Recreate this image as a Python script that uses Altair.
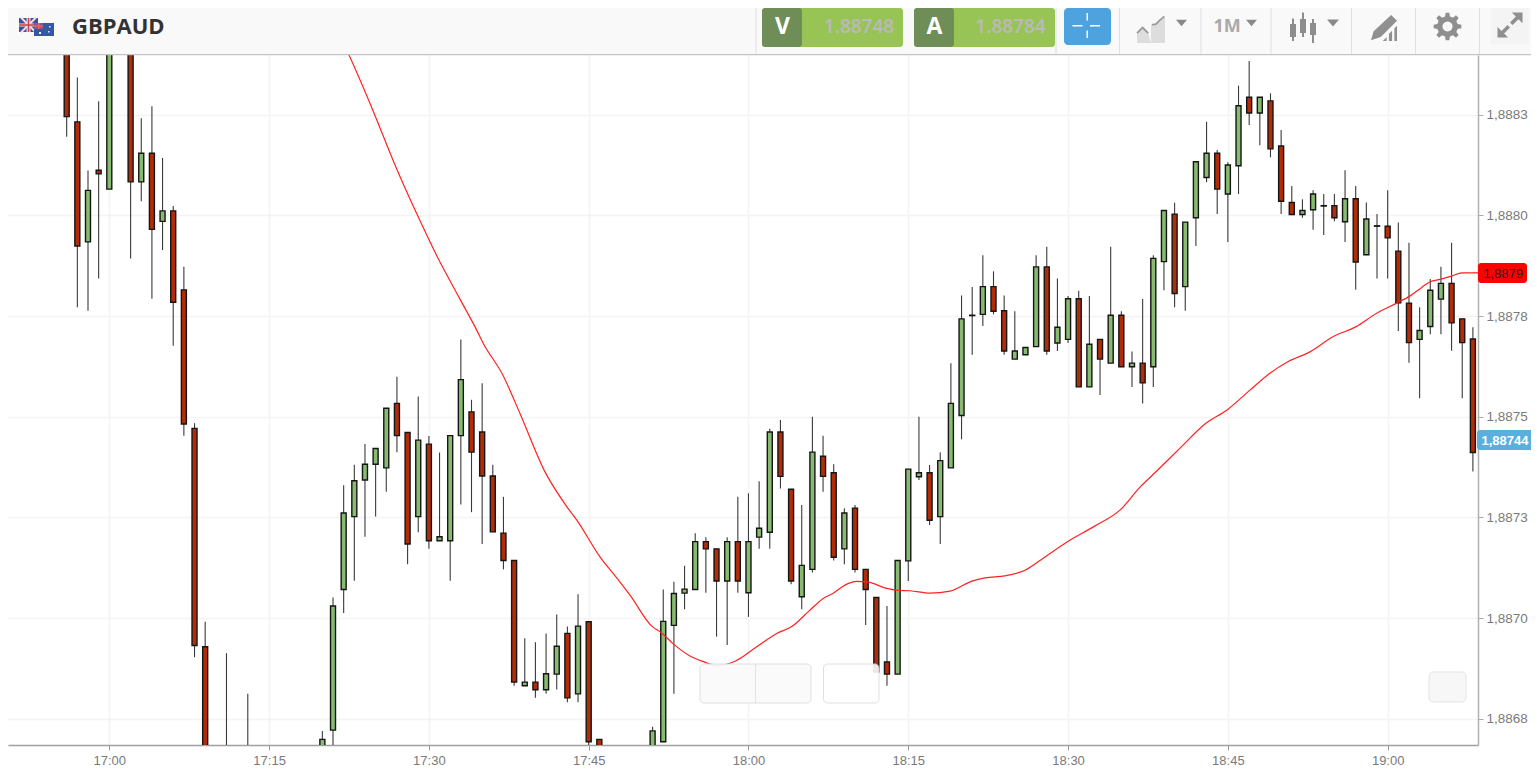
import math

import altair as alt
import pandas as pd

# Prices are written in millionths above 1 (888232 means 1.888232).
minutes = [-4, -3, -2, -1, 0, 2, 3, 4, 5, 6,
           7, 8, 9, 11, 13, 20, 21, 22, 23, 24,
           25, 26, 27, 28, 29, 30, 31, 32, 33, 34,
           35, 36, 37, 38, 39, 40, 41, 42, 43, 44,
           45, 46, 51, 52, 53, 54, 55, 56, 57, 58,
           59, 60, 61, 62, 63, 64, 65, 66, 67, 68,
           69, 70, 71, 72, 73, 74, 75, 76, 77, 78,
           79, 80, 81, 82, 83, 84, 85, 86, 87, 88,
           89, 90, 91, 92, 93, 94, 95, 96, 97, 98,
           99, 100, 101, 102, 103, 104, 105, 106, 107, 108,
           109, 110, 111, 112, 113, 114, 115, 116, 117, 118,
           119, 120, 121, 122, 123, 124, 125, 126, 127, 128]
opens = [888460, 888232, 887934, 888112, 888065, 888460, 888083, 888154, 887985, 888011,
         887815, 887471, 886929, 886573, 886598, 886648, 886722, 887071, 887252, 887343,
         887382, 887373, 887533, 887461, 887252, 887432, 887192, 887192, 887453, 887512,
         887462, 887353, 887211, 887143, 886832, 886841, 886822, 886861, 886962, 886812,
         886991, 886699, 886648, 886693, 886982, 887062, 887071, 887190, 887172, 887092,
         887190, 887063, 887201, 887213, 887462, 887320, 887053, 887121, 887402, 887361,
         887172, 887273, 887121, 887051, 886891, 886861, 887142, 887351, 887361, 887252,
         887373, 887503, 887751, 887754, 887823, 887763, 887643, 887654, 887674, 887872,
         887683, 887692, 887793, 887574, 887692, 887633, 887752, 887624, 887633, 887624,
         887885, 888003, 887823, 887994, 888094, 888154, 888053, 888123, 888293, 888254,
         888284, 888172, 888032, 888002, 888014, 888023, 888024, 887984, 888041, 887902,
         887973, 887973, 887911, 887782, 887692, 887724, 887792, 887831, 887743, 887693]
highs = [888485, 888342, 888111, 888283, 888485, 888485, 888241, 888271, 888142, 888023,
         887872, 887484, 886991, 886913, 886812, 886720, 887051, 887330, 887381, 887432,
         887421, 887521, 887599, 887461, 887550, 887452, 887411, 887453, 887692, 887542,
         887583, 887381, 887301, 887143, 886950, 886940, 886962, 887009, 886979, 887059,
         886991, 886699, 886730, 887071, 887090, 887130, 887211, 887201, 887172, 887201,
         887301, 887310, 887340, 887470, 887492, 887320, 887281, 887500, 887453, 887382,
         887273, 887281, 887121, 887051, 887030, 887143, 887370, 887500, 887380, 887412,
         887633, 887801, 887822, 887901, 887861, 887801, 887762, 887672, 887901, 887922,
         887843, 887800, 887813, 887800, 887692, 887922, 887762, 887662, 887792, 887901,
         888012, 888031, 887983, 888133, 888232, 888162, 888132, 888322, 888383, 888293,
         888303, 888212, 888073, 888040, 888062, 888053, 888053, 888112, 888073, 888032,
         888003, 888062, 887982, 887932, 887772, 887842, 887872, 887932, 887743, 887722]
lows = [888195, 887772, 887763, 887843, 888065, 887893, 888035, 887793, 887914, 887676,
        887453, 886903, 886500, 886500, 886548, 886623, 886648, 887013, 887093, 887202,
        887252, 887314, 887412, 887134, 887213, 887172, 887192, 887093, 887282, 887263,
        887184, 887214, 887121, 886832, 886832, 886802, 886812, 886823, 886791, 886791,
        886648, 886648, 886648, 886693, 886812, 887022, 887071, 887063, 886954, 886933,
        887063, 887003, 887172, 887172, 887322, 887084, 887022, 887113, 887314, 887143,
        887134, 887113, 886983, 886866, 886832, 886861, 887092, 887343, 887231, 887184,
        887373, 887444, 887654, 887725, 887754, 887654, 887643, 887654, 887674, 887654,
        887663, 887683, 887574, 887574, 887554, 887633, 887624, 887574, 887533, 887574,
        887814, 887772, 887763, 887924, 888082, 888003, 887934, 888053, 888224, 888174,
        888144, 888003, 888002, 887994, 887964, 887951, 887985, 887934, 887815, 887902,
        887843, 887843, 887713, 887634, 887546, 887705, 887705, 887664, 887546, 887364]
closes = [888245, 887924, 888062, 888103, 888460, 888083, 888154, 887965, 888011, 887784,
          887482, 886932, 886548, 886548, 886573, 886699, 887030, 887261, 887341, 887382,
          887421, 887521, 887453, 887184, 887442, 887192, 887202, 887453, 887592, 887412,
          887353, 887214, 887143, 886841, 886841, 886822, 886862, 886930, 886802, 886980,
          886693, 886648, 886720, 886992, 887061, 887072, 887190, 887172, 887092, 887190,
          887092, 887190, 887223, 887462, 887352, 887092, 887131, 887412, 887352, 887151,
          887261, 887121, 887071, 886866, 886861, 887143, 887370, 887361, 887243, 887391,
          887533, 887743, 887752, 887823, 887762, 887663, 887663, 887672, 887872, 887663,
          887722, 887793, 887574, 887680, 887643, 887752, 887624, 887633, 887584, 887893,
          888012, 887806, 887983, 888133, 888154, 888065, 888125, 888272, 888254, 888293,
          888165, 888035, 888002, 888012, 888053, 888024, 887994, 888041, 887884, 887991,
          887974, 887944, 887783, 887684, 887714, 887814, 887831, 887733, 887684, 887411]

ma_minutes = [21.84, 22.5, 24.66, 26.82, 28.79, 30.85, 32.92, 34.49, 35.11, 36.93,
              38.55, 40.90, 42.94, 43.87, 46.06, 47.63, 48.88, 50.92, 51.85, 52.94,
              54.51, 55.76, 57.02, 58.73, 60.77, 62.65, 64.06, 65.62, 67.02, 67.96,
              69.06, 70.16, 71.10, 72.98, 74.06, 75.16, 77.04, 78.92, 80.98, 82.20,
              84.08, 85.96, 87.83, 89.90, 92.53, 94.87, 96.75, 98.47, 100.51, 102.85,
              104.98, 107.07, 108.95, 110.67, 112.71, 114.90, 117.00, 118.97, 120.85, 122.10,
              123.20, 123.98, 124.92, 126.01, 126.95, 128.48]
ma_values = [888435, 888398, 888266, 888125, 888008, 887894, 887792, 887715, 887682, 887604,
             887508, 887363, 887277, 887244, 887152, 887100, 887057, 886980, 886963, 886936,
             886906, 886892, 886882, 886893, 886929, 886962, 886979, 887016, 887049, 887062,
             887082, 887091, 887090, 887074, 887069, 887068, 887062, 887067, 887092, 887100,
             887105, 887119, 887152, 887189, 887229, 887268, 887325, 887369, 887422, 887482,
             887518, 887566, 887608, 887637, 887661, 887699, 887723, 887757, 887782, 887800,
             887821, 887835, 887841, 887849, 887857, 887857]

x_ticks = [0, 15, 30, 45, 60, 75, 90, 105, 120]
y_ticks = [1.88675, 1.88700, 1.88725, 1.88750, 1.88775, 1.88800, 1.88825]
x_domain = [-9.509, 128.48]
y_domain = [1.886685, 1.888398]


def price(v):
    return 1 + v / 1e6


candles = pd.DataFrame({
    "minute": minutes,
    "open": [price(v) for v in opens],
    "high": [price(v) for v in highs],
    "low": [price(v) for v in lows],
    "close": [price(v) for v in closes],
})
candles["dir"] = ["up" if c >= o else "down" for o, c in zip(opens, closes)]
ma = pd.DataFrame({"minute": ma_minutes, "price": [price(v) for v in ma_values]})

x_axis = alt.Axis(
    values=x_ticks, title=None, orient="bottom", grid=True,
    gridColor="#f4f4f4", gridWidth=1.5, tickColor="#999999", tickSize=5,
    domainColor="#a0a0a0", domainWidth=1.5, labelColor="#7a7a7a", labelFontSize=13,
    labelFont="Liberation Sans", labelPadding=4, labelBaseline="top",
    labelExpr="format(17 + floor(datum.value / 60), '02d') + ':' + format(datum.value % 60, '02d')",
)
y_axis = alt.Axis(
    values=y_ticks, title=None, orient="right", grid=True,
    gridColor="#f4f4f4", gridWidth=1.5, tickColor="#aaaaaa", tickSize=5,
    domainColor="#b0b0b0", domainWidth=1.5, labelColor="#7a7a7a", labelFontSize=13.5,
    labelFont="Liberation Sans", labelPadding=3,
    labelExpr="replace(format(datum.value + 0.000001, '.4f'), '.', ',')",
)
x_scale = alt.Scale(domain=x_domain, nice=False, zero=False, padding=0)
y_scale = alt.Scale(domain=y_domain, nice=False, zero=False, padding=0)
X = alt.X("minute:Q", scale=x_scale, axis=x_axis)

wicks = alt.Chart(candles).mark_rule(clip=True, color="#3a3a3a", strokeWidth=1.1).encode(
    x=X,
    y=alt.Y("high:Q", scale=y_scale, axis=y_axis),
    y2="low:Q",
)
bodies = alt.Chart(candles).mark_bar(clip=True, size=5, stroke="#151515", strokeWidth=1.4).encode(
    x=X,
    y=alt.Y("open:Q", scale=y_scale, axis=y_axis),
    y2="close:Q",
    color=alt.Color("dir:N", scale=alt.Scale(domain=["up", "down"], range=["#86bb70", "#b32c08"]), legend=None),
)
ma_line = alt.Chart(ma).mark_line(clip=True, color="#ff2222", strokeWidth=1.2, interpolate="monotone").encode(
    x=X,
    y=alt.Y("price:Q", scale=y_scale, axis=y_axis),
    order="minute:Q",
)

one = pd.DataFrame({"k": [0]})
OX, OY = 8, 55  # page position of the plot origin


def box(x0, y0, x1, y1, fill, radius=0, **kw):
    return alt.Chart(one).mark_rect(color=fill, cornerRadius=radius, **kw).encode(
        x=alt.value(x0 - OX), x2=alt.value(x1 - OX), y=alt.value(y0 - OY), y2=alt.value(y1 - OY))


def label(s, x, y, size, color, font="Open Sans", weight="normal", align="center"):
    return alt.Chart(one).mark_text(text=s, font=font, fontSize=size, fontWeight=weight, color=color,
                                    align=align, baseline="middle").encode(
        x=alt.value(x - OX), y=alt.value(y - OY))


def glyph(path, x, y, span, color, stroke=None, width=0):
    kw = dict(shape=path, size=span * span, opacity=1)
    if stroke:
        kw.update(filled=False, stroke=stroke, strokeWidth=width)
    else:
        kw.update(filled=True, color=color, strokeWidth=0)
    return alt.Chart(one).mark_point(**kw).encode(x=alt.value(x - OX), y=alt.value(y - OY))


def gear_path(teeth=8, outer=1.0, inner=0.74, hole=0.36):
    pts = []
    for i in range(teeth):
        a = 2 * math.pi * i / teeth
        step = 2 * math.pi / teeth
        for r, da in [(inner, -0.30), (outer, -0.17), (outer, 0.17), (inner, 0.30)]:
            pts.append((r * math.sin(a + da * step), -r * math.cos(a + da * step)))
    d = "M" + " L".join(f"{px:.3f},{py:.3f}" for px, py in pts) + " Z"
    ring = [(hole * math.sin(-2 * math.pi * i / 24), -hole * math.cos(-2 * math.pi * i / 24)) for i in range(24)]
    return d + " M" + " L".join(f"{px:.3f},{py:.3f}" for px, py in ring) + " Z"


CARET = "M-1,-0.6 L1,-0.6 L0,0.6 Z"
overlays = [
    box(700, 664, 811, 703, "#fafafa", 4, opacity=0.93, stroke="#dddddd", strokeWidth=1),
    box(755, 664, 755.8, 703, "#dedede"),
    box(823.5, 664, 879, 703, "#ffffff", 4, opacity=0.9, stroke="#dddddd", strokeWidth=1),
    box(1429, 672, 1466, 702, "#f7f7f7", 4, stroke="#e4e4e4", strokeWidth=1),
    box(1478, 263, 1527, 283, "#ff0000", 3),
    label("1,8879", 1503, 273.5, 13, "#222222", "Liberation Sans"),
    box(1477, 430, 1534, 450, "#5aafdd", 3),
    label("1,88744", 1505, 440.5, 13, "#ffffff", "Liberation Sans", "bold"),
]

header = [
    box(8, 8, 1539, 54.5, "#f9f9f9"),
    box(8, 54, 1539, 55.2, "#c4c4c4"),
]
for sx in [755.5, 1055.5, 1119, 1200.5, 1270.5, 1351, 1415, 1479]:
    header.append(box(sx, 8, sx + 1, 54, "#dfdfdf"))

header += [
    # flags
    box(19, 18, 38, 32, "#3f4f9e"),
    glyph("M-1,-1 L1,1 M1,-1 L-1,1", 28.5, 25, 15, None, "#f2dede", 2),
    box(19, 23.5, 38, 26.5, "#e8e0e4"),
    box(26.5, 18, 30.5, 32, "#e8e0e4"),
    box(19, 24.2, 38, 25.8, "#d2424a"),
    box(27.7, 18, 29.3, 32, "#d2424a"),
    box(34, 23, 54, 36, "#3457a8"),
    box(34, 23, 43, 29, "#7a5f9a"),
    box(38, 23, 39.5, 29, "#e06a6a"),
    box(34, 25.5, 43, 26.8, "#e06a6a"),
    box(39, 32, 41, 34, "#eef2fb"),
    box(49, 26, 50.5, 27.5, "#eef2fb"),
    box(48, 31, 49.5, 32.5, "#eef2fb"),
    label("GBPAUD", 72, 27, 22, "#333333", "Open Sans", "bold", "left"),
    # quote buttons
    box(762, 8, 903, 47, "#98c455", 3),
    box(762, 8, 802, 47, "#6f8d56", 3),
    label("V", 782.5, 26.5, 23, "#ffffff", "Open Sans", "bold"),
    label("1.88748", 859, 26.5, 19, "#bcb9bd", "Open Sans", 600),
    box(914, 8, 1055, 47, "#98c455", 3),
    box(914, 8, 954, 47, "#6f8d56", 3),
    label("A", 934.5, 26.5, 23, "#ffffff", "Open Sans", "bold"),
    label("1.88784", 1010.5, 26.5, 19, "#bcb9bd", "Open Sans", 600),
    box(1064, 8, 1111, 45, "#4ea3df", 4),
    box(1086.5, 13, 1088, 20.5, "#ffffff"),
    box(1086.5, 30.5, 1088, 38, "#ffffff"),
    box(1072.5, 25, 1082.5, 26.5, "#ffffff"),
    box(1090, 25, 1100, 26.5, "#ffffff"),
    # chart type icon
    glyph("M-1,1 L-1,0.3 L-0.6,-0.1 L-0.2,0.3 L0,1 Z M0,1 L0,-0.2 L0.35,-0.3 L1,-0.9 L1,1 Z", 1151, 29, 28, "#dddddd"),
    glyph("M-1,0.3 L-0.6,-0.1 L-0.2,0.3", 1151, 29, 28, None, "#9a9a9a", 1.8),
    glyph("M0.05,-0.3 L0.35,-0.35 L0.6,-0.6 L0.95,-0.9", 1151, 29, 28, None, "#9a9a9a", 1.8),
    glyph(CARET, 1181.5, 23, 11, "#8a8a8a"),
    label("1M", 1227, 26.5, 18, "#aaaaaa", "Open Sans", "bold"),
    glyph(CARET, 1251.5, 23, 11, "#8a8a8a"),
    # candlestick icon
    box(1292, 18.5, 1294, 41, "#8d8d8d"), box(1290, 24, 1296, 37, "#8d8d8d"),
    box(1302, 12.5, 1304, 37, "#8d8d8d"), box(1300, 19, 1306, 33, "#8d8d8d"),
    box(1312, 19, 1314, 43, "#8d8d8d"), box(1310, 23, 1316, 35, "#8d8d8d"),
    glyph(CARET, 1333, 23, 12, "#8a8a8a"),
    # drawing icon
    glyph("M-1,0.95 L-0.8,0.25 L0.55,-1 L1,-0.55 L-0.25,0.7 Z M-0.1,1 L0.2,0.72 L0.2,1 Z M0.38,1 L0.38,0.45 L0.62,0.22 L0.62,1 Z M0.8,1 L0.8,0.02 L1,-0.18 L1,1 Z",
          1384, 28, 26, "#909090"),
    # settings
    glyph(gear_path(), 1447.5, 26.5, 28, "#8f8f8f"),
    # fullscreen
    box(1491, 8, 1529, 44, "#f4f4f4"),
    glyph("M0.15,-1 L1,-1 L1,-0.15 L0.68,-0.47 L0.2,0 L0,-0.2 L0.47,-0.68 Z M-0.15,1 L-1,1 L-1,0.15 L-0.68,0.47 L-0.2,0 L0,0.2 L-0.47,0.68 Z",
          1510, 25, 25, "#8f8f8f"),
]

chart = alt.layer(wicks, bodies, ma_line, *overlays, *header).resolve_scale(x="shared", y="shared").properties(
    width=1470, height=690,
    padding={"left": 0, "top": 47, "right": 53, "bottom": 22},
    autosize=alt.AutoSizeParams(type="none"),
    background="#ffffff",
).configure_view(strokeWidth=0)

chart.save("out.html", embed_options={"renderer": "svg", "actions": False})
